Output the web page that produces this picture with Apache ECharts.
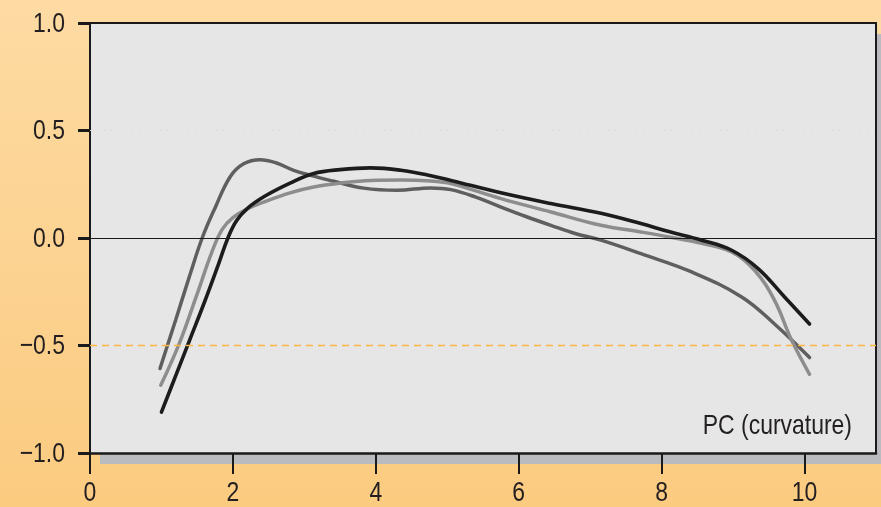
<!DOCTYPE html>
<html>
<head>
<meta charset="utf-8">
<script src="https://cdn.jsdelivr.net/npm/echarts@6/dist/echarts.min.js"></script>
<style>
html,body{margin:0;padding:0;}
#c{width:881px;height:507px;}
</style>
</head>
<body>
<div id="c"></div>
<script>
// ---- data ----
const xTicks = [0, 2, 4, 6, 8, 10];
const yTicks = [-1, -0.5, 0, 0.5, 1];
const axisTitle = 'PC (curvature)';

const darkGrayX = [0.98, 1.2, 1.4, 1.57, 1.75, 1.96, 2.15, 2.38, 2.6, 2.85, 3.1, 3.4, 3.83, 4.3, 4.77, 5.05, 5.4, 5.75, 6.1, 6.45, 6.8, 7.15, 7.71, 8.42, 9.12, 9.58, 10.07];
const darkGrayY = [-0.607, -0.38, -0.17, 0.0, 0.14, 0.284, 0.345, 0.364, 0.35, 0.315, 0.29, 0.265, 0.232, 0.222, 0.233, 0.225, 0.19, 0.144, 0.10, 0.059, 0.02, -0.01, -0.073, -0.158, -0.274, -0.40, -0.556];

const lightGrayX = [0.99, 1.25, 1.5, 1.7, 1.85, 2.0, 2.2, 2.43, 2.8, 3.13, 3.5, 3.93, 4.35, 4.77, 5.05, 5.75, 6.45, 7.15, 7.71, 8.1, 8.56, 8.98, 9.3, 9.58, 9.82, 10.07];
const lightGrayY = [-0.685, -0.49, -0.26, -0.07, 0.04, 0.095, 0.135, 0.167, 0.21, 0.237, 0.255, 0.268, 0.27, 0.265, 0.253, 0.183, 0.121, 0.059, 0.028, 0.005, -0.025, -0.065, -0.15, -0.29, -0.476, -0.634];

const blackX = [1.0, 1.2, 1.4, 1.6, 1.8, 1.93, 2.05, 2.2, 2.45, 2.8, 3.13, 3.5, 3.93, 4.35, 4.77, 5.05, 5.75, 6.45, 7.15, 7.71, 8.1, 8.56, 8.98, 9.35, 9.72, 10.07];
const blackY = [-0.81, -0.64, -0.47, -0.30, -0.12, 0.0, 0.08, 0.137, 0.195, 0.255, 0.30, 0.318, 0.326, 0.315, 0.29, 0.268, 0.21, 0.16, 0.115, 0.067, 0.03, -0.01, -0.057, -0.142, -0.274, -0.40];

const refLines = [0, -0.5, 0.5];

// ---- chart ----
const FONT = "'Liberation Sans', Arial, sans-serif";
const TXT = '#231f20';
const NARROW = 0.82;
const zip = (xs, ys) => xs.map((x, i) => [x, ys[i]]);
const fmtY = v => (v < 0 ? '\u2212' : '') + Math.abs(v).toFixed(1);

const chart = echarts.init(document.getElementById('c'), null, {renderer: 'canvas'});
chart.setOption({
  animation: false,
  backgroundColor: {
    type: 'linear', x: 0, y: 0, x2: 0, y2: 1,
    colorStops: [{offset: 0, color: '#fddba3'}, {offset: 1, color: '#fbcb80'}]
  },
  textStyle: {fontFamily: FONT},
  grid: {
    left: 90, top: 23, width: 786, height: 430,
    show: true, backgroundColor: '#e6e6e6', borderWidth: 0,
    shadowColor: '#babbbf', shadowOffsetX: 10, shadowOffsetY: 11, shadowBlur: 0
  },
  xAxis: [{
    type: 'value', min: 0, max: 11, position: 'bottom',
    axisLine: {show: true, onZero: false, lineStyle: {color: '#1a1a1a', width: 2.5}},
    axisTick: {show: true, length: 21, customValues: xTicks, lineStyle: {color: '#1a1a1a', width: 2}},
    axisLabel: {show: false},
    splitLine: {show: false}
  }, {
    type: 'value', min: 0, max: 11, position: 'top',
    axisLine: {show: true, onZero: false, lineStyle: {color: '#1a1a1a', width: 2}},
    axisTick: {show: false}, axisLabel: {show: false}, splitLine: {show: false}
  }],
  yAxis: [{
    type: 'value', min: -1, max: 1, interval: 0.5, position: 'left',
    axisLine: {show: true, onZero: false, lineStyle: {color: '#1a1a1a', width: 2}},
    axisTick: {show: true, length: 12, customValues: yTicks, lineStyle: {color: '#1a1a1a', width: 3}},
    axisLabel: {show: false},
    splitLine: {show: false}
  }, {
    type: 'value', min: -1, max: 1, position: 'right',
    axisLine: {show: true, onZero: false, lineStyle: {color: '#1a1a1a', width: 2}},
    axisTick: {show: false}, axisLabel: {show: false}, splitLine: {show: false}
  }],
  series: [{
    type: 'line', data: [], z: 1, silent: true,
    markLine: {
      silent: true, symbol: 'none', label: {show: false},
      data: [
        {yAxis: refLines[0], lineStyle: {color: '#1a1a1a', width: 1, type: 'solid'}},
        {yAxis: refLines[1], lineStyle: {color: '#fdb545', width: 1.3, type: [7, 5]}},
        {yAxis: refLines[2], lineStyle: {color: '#d4d4d4', width: 1, type: [1, 6]}}
      ]
    }
  }, {
    name: 'dark', type: 'line', data: zip(darkGrayX, darkGrayY), smooth: 0.4,
    showSymbol: false, lineStyle: {color: '#5f5f5f', width: 3.5, cap: 'round'}
  }, {
    name: 'light', type: 'line', data: zip(lightGrayX, lightGrayY), smooth: 0.4,
    showSymbol: false, lineStyle: {color: '#8d8d8d', width: 3.5, cap: 'round'}
  }, {
    name: 'black', type: 'line', data: zip(blackX, blackY), smooth: 0.4,
    showSymbol: false, lineStyle: {color: '#1c1c1c', width: 3.6, cap: 'round'}
  }]
});

// narrow (condensed) tick labels and axis title, placed through the axes' scales
const labelFont = "28px " + FONT;
const graphics = [];
const xLabelY = 493;
xTicks.forEach(v => {
  graphics.push({
    type: 'text', x: chart.convertToPixel({xAxisIndex: 0}, v), y: xLabelY, scaleX: NARROW, silent: true,
    style: {text: String(v), font: labelFont, fill: TXT, align: 'center', verticalAlign: 'middle'}
  });
});
yTicks.forEach(v => {
  graphics.push({
    type: 'text', x: 65, y: chart.convertToPixel({yAxisIndex: 0}, v) + 1, scaleX: NARROW, silent: true,
    style: {text: fmtY(v), font: labelFont, fill: TXT, align: 'right', verticalAlign: 'middle'}
  });
});
graphics.push({
  type: 'text', x: 852, y: 426, scaleX: NARROW, silent: true,
  style: {text: axisTitle, font: labelFont, fill: TXT, align: 'right', verticalAlign: 'middle'}
});
chart.setOption({graphic: graphics});
</script>
</body>
</html>
